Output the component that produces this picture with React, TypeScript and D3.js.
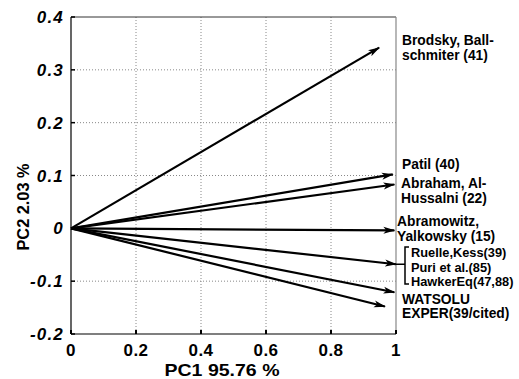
import React from 'react';
import * as d3 from 'd3';

// loadings
const methods = ['Brodsky', 'Patil', 'Abraham', 'Abramowitz', 'Ruelle/Puri/Hawker', 'WATSOLU', 'EXPER'];
const pc1 = [0.948, 0.99, 0.995, 0.995, 1.0, 0.995, 0.966];
const pc2 = [0.342, 0.102, 0.083, -0.004, -0.068, -0.121, -0.148];

const xTicks = [0, 0.2, 0.4, 0.6, 0.8, 1];
const yTicks = [0.4, 0.3, 0.2, 0.1, 0, -0.1, -0.2];
const xTickLabels = ['0', '0.2', '0.4', '0.6', '0.8', '1'];
const yTickLabels = ['0.4', '0.3', '0.2', '0.1', '0', '-0.1', '-0.2'];

// label text next to arrow tips, anchored at a PC2 value
const labelLines = [
	['Brodsky, Ball-', 'schmiter (41)'],
	['Patil (40)'],
	['Abraham, Al-', 'Hussalni (22)'],
	['Abramowitz,', 'Yalkowsky (15)'],
	['Ruelle,Kess(39)', 'Puri et al.(85)', 'HawkerEq(47,88)'],
	['WATSOLU', 'EXPER(39/cited)'],
];
const labelAt = [0.356, 0.121, 0.085, 0.013, -0.045, -0.133];

const W = 519, H = 379;
const font = '"Liberation Sans", Arial, sans-serif';

const App = () => {
	const x = d3.scaleLinear().domain([0, 1]).range([71, 396]);
	const y = d3.scaleLinear().domain([-0.2, 0.4]).range([334, 17]);
	const labelX = [402, 402, 401, 397, 411, 402];
	const labelSize = [13.8, 13.8, 13.8, 13.8, 12.8, 13.8];

	const bracketTop = y(labelAt[4]) - 5;
	const bracketBottom = y(labelAt[4]) + 32;
	const ruelleY = y(pc2[4]);

	return (
		<svg width={W} height={H} style={{ position: 'absolute', left: 0, top: 0, background: '#fff' }}>
			<defs>
				<marker id="head" viewBox="0 0 12 8" refX="11" refY="4" markerWidth="12" markerHeight="8"
					markerUnits="userSpaceOnUse" orient="auto">
					<path d="M0,0.5 L12,4 L0,7.5 L3,4 Z" fill="#000" />
				</marker>
			</defs>

			{/* dotted grid */}
			{xTicks.slice(1, -1).map((t) => (
				<line key={'gx' + t} x1={x(t)} x2={x(t)} y1={y(0.4)} y2={y(-0.2)}
					stroke="#888" strokeWidth={1} strokeDasharray="1,2" />
			))}
			{yTicks.slice(1, -1).filter((t) => t !== 0).map((t) => (
				<line key={'gy' + t} x1={x(0)} x2={x(1)} y1={y(t)} y2={y(t)}
					stroke="#888" strokeWidth={1} strokeDasharray="1,2" />
			))}

			{/* frame */}
			<line x1={x(0)} x2={x(1)} y1={y(0.4)} y2={y(0.4)} stroke="#333" strokeWidth={1} />
			<line x1={x(1)} x2={x(1)} y1={y(0.4)} y2={y(-0.2)} stroke="#888" strokeWidth={1.2} />
			<line x1={x(0)} x2={x(0)} y1={y(0.4)} y2={y(-0.2)} stroke="#000" strokeWidth={1.2} />
			<line x1={x(0)} x2={x(1)} y1={y(-0.2)} y2={y(-0.2)} stroke="#000" strokeWidth={1.2} />

			{/* ticks */}
			{xTicks.map((t) => (
				<line key={'tx' + t} x1={x(t)} x2={x(t)} y1={y(-0.2)} y2={y(-0.2) - 4} stroke="#000" strokeWidth={2} />
			))}
			{yTicks.map((t) => (
				<line key={'ty' + t} x1={x(0)} x2={x(0) + 4} y1={y(t)} y2={y(t)} stroke="#000" strokeWidth={1.5} />
			))}

			{/* tick labels */}
			{xTicks.map((t, i) => (
				<text key={'lx' + t} x={x(t)} y={356} textAnchor="middle" fontFamily={font}
					fontWeight="bold" fontSize={17} letterSpacing={0.5}>{xTickLabels[i]}</text>
			))}
			{yTicks.map((t, i) => (
				<text key={'ly' + t} x={64} y={y(t) + 6} textAnchor="end" fontFamily={font}
					fontWeight="bold" fontStyle="italic" fontSize={17} letterSpacing={1.2}>{yTickLabels[i]}</text>
			))}

			{/* axis titles */}
			<text x={222} y={376} textAnchor="middle" fontFamily={font} fontWeight="bold" fontSize={17}
				textLength={115} lengthAdjust="spacingAndGlyphs">PC1 95.76 %</text>
			<text transform={`translate(29,207) rotate(-90)`} textAnchor="middle" fontFamily={font}
				fontWeight="bold" fontSize={17} textLength={87} lengthAdjust="spacingAndGlyphs">PC2 2.03 %</text>

			{/* loading arrows */}
			{methods.map((m, i) => (
				<line key={m} x1={x(0)} y1={y(0)} x2={x(pc1[i])} y2={y(pc2[i])}
					stroke="#000" strokeWidth={2.2} markerEnd="url(#head)" />
			))}

			{/* bracket for the grouped methods */}
			<path d={`M${x(1)},${ruelleY} H405 M409,${bracketTop} H405 V${bracketBottom} H409`}
				fill="none" stroke="#000" strokeWidth={1.5} />

			{/* labels */}
			{labelLines.map((lines, i) => (
				<text key={'lab' + i} fontFamily={font} fontWeight="bold" fontSize={labelSize[i]}>
					{lines.map((s, j) => (
						<tspan key={j} x={labelX[i]} y={y(labelAt[i]) + 5 + j * 14.5}>{s}</tspan>
					))}
				</text>
			))}
		</svg>
	);
};

export default App;
